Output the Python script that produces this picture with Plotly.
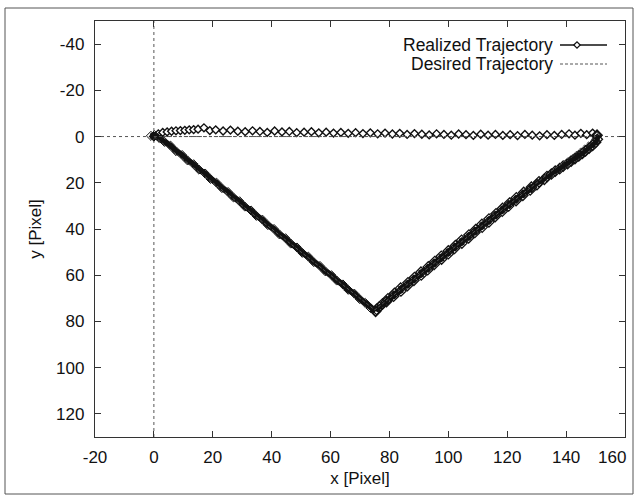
import plotly.graph_objects as go

# ---------------- data ----------------
# Desired trajectory (triangle corners)
desired_x = [0, 150, 75, 0]
desired_y = [0, 0, 75, 0]

# Realized trajectory, top edge (left -> right)
top_x = [0, 1.5, 3, 4.5, 6, 7.5, 9, 10.5, 12, 13.5, 15, 17, 19, 21, 23.5, 26, 28.5, 31,
         33.5, 36, 38.5, 41, 43.5, 46, 48.5, 51, 53.5, 56, 58.5, 61, 63.5, 66, 68.5, 71,
         73.5, 76, 78.5, 81, 83.5, 86, 88.5, 91, 93.5, 96, 98.5, 101, 103.5, 106, 108.5,
         111, 113.5, 116, 118.5, 121, 123.5, 126, 128.5, 131, 133.5, 136, 138.5, 141,
         143, 145, 147, 149, 150.5]
top_y = [0, -1.2, -1.8, -2.0, -2.3, -2.5, -2.6, -2.7, -2.9, -3.0, -3.2, -3.8, -2.6, -2.9,
         -2.4, -2.8, -2.3, -2.1, -2.5, -2.2, -1.8, -2.4, -2.0, -2.2, -1.7, -1.9, -2.1, -1.6,
         -1.9, -1.5, -1.8, -1.4, -1.7, -1.3, -1.6, -1.2, -1.5, -1.1, -1.4, -0.9, -1.3, -1.0,
         -0.7, -1.2, -0.9, -0.6, -1.1, -0.8, -0.5, -1.0, -0.6, -0.9, -0.5, -0.8, -0.4, -0.9,
         -0.6, -0.3, -0.8, -0.5, -0.9, -1.2, -0.6, -1.4, -0.8, -1.5, -0.6]

# Realized trajectory, right edge (top-right corner -> bottom apex)
right_x = [150.6, 150.0, 149.0, 147.8, 146.6, 145.5, 144.3, 143.0, 141.7, 140.5, 139.0,
           137.8, 136.3, 135.0, 133.5, 132.6, 130.8, 130.1, 128.2, 127.8, 125.6, 125.3,
           123.1, 123.0, 120.8, 120.5, 118.4, 118.3, 116.2, 115.9, 113.8, 113.8, 111.4,
           111.5, 109.3, 109.0, 107.0, 106.9, 104.5, 104.6, 102.4, 102.1, 100.0, 100.0,
           97.6, 97.7, 95.4, 95.2, 93.2, 93.0, 90.7, 90.8, 88.5, 88.3, 86.3, 86.1, 83.8,
           83.9, 81.7, 81.4, 79.5, 79.0, 77.6, 76.6, 75.6, 75.3]
right_y = [1.2, 2.5, 3.8, 5.0, 6.2, 7.3, 8.4, 9.5, 10.6, 11.7, 12.8, 13.9, 15.0, 16.2, 17.3,
           18.5, 19.6, 20.8, 21.9, 23.1, 24.2, 25.4, 26.5, 27.7, 28.8, 30.0, 31.1, 32.3,
           33.4, 34.6, 35.7, 36.9, 38.0, 39.2, 40.3, 41.5, 42.6, 43.8, 44.9, 46.1, 47.2,
           48.4, 49.5, 50.7, 51.8, 53.0, 54.1, 55.3, 56.4, 57.6, 58.7, 59.9, 61.0, 62.2,
           63.3, 64.5, 65.6, 66.8, 67.9, 69.1, 70.2, 71.4, 72.5, 73.7, 74.8, 75.6]

# Realized trajectory, left edge (bottom apex -> origin)
left_x = [73.6, 71.8, 69.9, 68.1, 66.0, 64.2, 62.1, 60.3, 58.2, 56.4, 54.3, 52.5, 50.4,
          48.6, 46.5, 44.7, 42.6, 40.8, 38.7, 36.9, 34.8, 33.0, 30.9, 29.1, 27.0, 25.2,
          23.1, 21.3, 19.2, 17.4, 15.3, 13.5, 11.4, 9.6, 7.5, 5.7, 3.6, 1.8, 0.2, -1.0, 0]
left_y = [74.2, 72.0, 70.3, 68.0, 66.3, 64.0, 62.3, 60.0, 58.3, 56.0, 54.3, 52.0, 50.3,
          48.0, 46.3, 44.0, 42.3, 40.0, 38.3, 36.0, 34.3, 32.0, 30.3, 28.0, 26.3, 24.0,
          22.3, 20.0, 18.3, 16.0, 14.3, 12.0, 10.3, 8.0, 6.3, 4.0, 2.3, 0.6, -0.6, -0.3, 0]

assert len(top_x) == len(top_y)
assert len(right_x) == len(right_y)
assert len(left_x) == len(left_y)

series_names = ["Realized Trajectory", "Desired Trajectory"]
x_ticks = [-20, 0, 20, 40, 60, 80, 100, 120, 140, 160]
y_ticks = [-40, -20, 0, 20, 40, 60, 80, 100, 120]

# ---------------- figure ----------------
W, H = 636, 495
ML, MR, MT, MB = 95, 11, 21, 58
PW, PH = W - ML - MR, H - MT - MB
FONT = "Liberation Sans, Arial, Helvetica, sans-serif"
INK = "#111111"


def px_x(p):
    return (p - ML) / PW


def px_y(p):
    return (H - MB - p) / PH


fig = go.Figure()

# realized: edges joined end to end (shared corner points taken from neighbouring edge)
seg_right_x = [top_x[-1]] + right_x
seg_right_y = [top_y[-1]] + right_y
seg_left_x = [right_x[-1]] + left_x
seg_left_y = [right_y[-1]] + left_y

fig.add_trace(go.Scatter(
    x=top_x, y=top_y, mode="lines+markers", name=series_names[0],
    line=dict(color=INK, width=1.3),
    marker=dict(symbol="diamond", size=6, color="white", line=dict(color=INK, width=1.4)),
    showlegend=False))
fig.add_trace(go.Scatter(
    x=seg_right_x, y=seg_right_y, mode="lines+markers", name=series_names[0],
    line=dict(color=INK, width=5),
    marker=dict(symbol="diamond-open", size=8, color=INK, line=dict(width=1.3)),
    showlegend=False))
fig.add_trace(go.Scatter(
    x=seg_left_x, y=seg_left_y, mode="lines+markers", name=series_names[0],
    line=dict(color=INK, width=6),
    marker=dict(symbol="diamond-open", size=7, color=INK, line=dict(width=1.0)),
    showlegend=False))

fig.add_trace(go.Scatter(
    x=desired_x, y=desired_y, mode="lines", name=series_names[1],
    line=dict(color="#555555", width=1, dash="3px,2px"), showlegend=False))

# dotted zero axes
fig.add_shape(type="line", xref="x", yref="paper", x0=0, x1=0, y0=0, y1=1,
              line=dict(color="#555555", width=1, dash="dot"), layer="below")
fig.add_shape(type="line", xref="paper", yref="y", x0=0, x1=1, y0=0, y1=0,
              line=dict(color="#555555", width=1, dash="dot"), layer="below")

# outer frame of the figure
fig.add_shape(type="rect", xref="paper", yref="paper",
              x0=px_x(5), x1=px_x(633), y0=px_y(494), y1=px_y(8),
              line=dict(color="#555555", width=1))

# manual gnuplot-style key (text left, sample right)
row1, row2 = 45, 64
text_right = 555
s0, s1, dm = 560, 607, 577
fig.add_annotation(xref="paper", yref="paper", x=px_x(text_right), y=px_y(row1),
                   text=series_names[0], showarrow=False, xanchor="right", yanchor="middle",
                   font=dict(family=FONT, size=17.5, color=INK))
fig.add_annotation(xref="paper", yref="paper", x=px_x(text_right), y=px_y(row2),
                   text=series_names[1], showarrow=False, xanchor="right", yanchor="middle",
                   font=dict(family=FONT, size=17.5, color=INK))
fig.add_shape(type="line", xref="paper", yref="paper", x0=px_x(s0), x1=px_x(s1),
              y0=px_y(row1), y1=px_y(row1), line=dict(color=INK, width=1.3))
dx, dy = 3.2 / PW, 3.2 / PH
cx, cy = px_x(dm), px_y(row1)
fig.add_shape(type="path", xref="paper", yref="paper",
              path=f"M {cx-dx},{cy} L {cx},{cy+dy} L {cx+dx},{cy} L {cx},{cy-dy} Z",
              fillcolor="white", line=dict(color=INK, width=1.2))
fig.add_shape(type="line", xref="paper", yref="paper", x0=px_x(s0), x1=px_x(s1),
              y0=px_y(row2), y1=px_y(row2),
              line=dict(color="#555555", width=1, dash="3px,2px"))

axis_common = dict(showline=True, linecolor="#333333", linewidth=1.3, mirror="ticks",
                   ticks="inside", ticklen=6, tickwidth=1, tickcolor="#333333",
                   showgrid=False, zeroline=False,
                   tickfont=dict(family=FONT, size=17, color=INK))

# the last x label sits slightly left of its tick in the reference (kept inside the page)
x_ticktext = [str(v) for v in x_ticks]
x_ticktext[-1] = ""
fig.add_annotation(xref="paper", yref="paper", x=px_x(612), y=px_y(457),
                   text=str(x_ticks[-1]), showarrow=False, xanchor="center",
                   yanchor="middle", font=dict(family=FONT, size=17, color=INK))

fig.update_xaxes(range=[-20, 160], tickvals=x_ticks, ticktext=x_ticktext,
                 title=dict(text="x [Pixel]", font=dict(family=FONT, size=17, color=INK),
                            standoff=6),
                 ticklabelstandoff=4, **axis_common)
fig.update_yaxes(range=[130, -50], tickvals=y_ticks, ticktext=[str(v) for v in y_ticks],
                 title=dict(text="y [Pixel]", font=dict(family=FONT, size=17, color=INK),
                            standoff=10),
                 ticklabelstandoff=6, **axis_common)

fig.update_layout(width=W, height=H, margin=dict(l=ML, r=MR, t=MT, b=MB, autoexpand=False),
                  paper_bgcolor="white", plot_bgcolor="white",
                  font=dict(family=FONT, color=INK), showlegend=False)

fig.write_html("out.html", config={"displayModeBar": False},
               post_script="document.body.style.margin='0';")
